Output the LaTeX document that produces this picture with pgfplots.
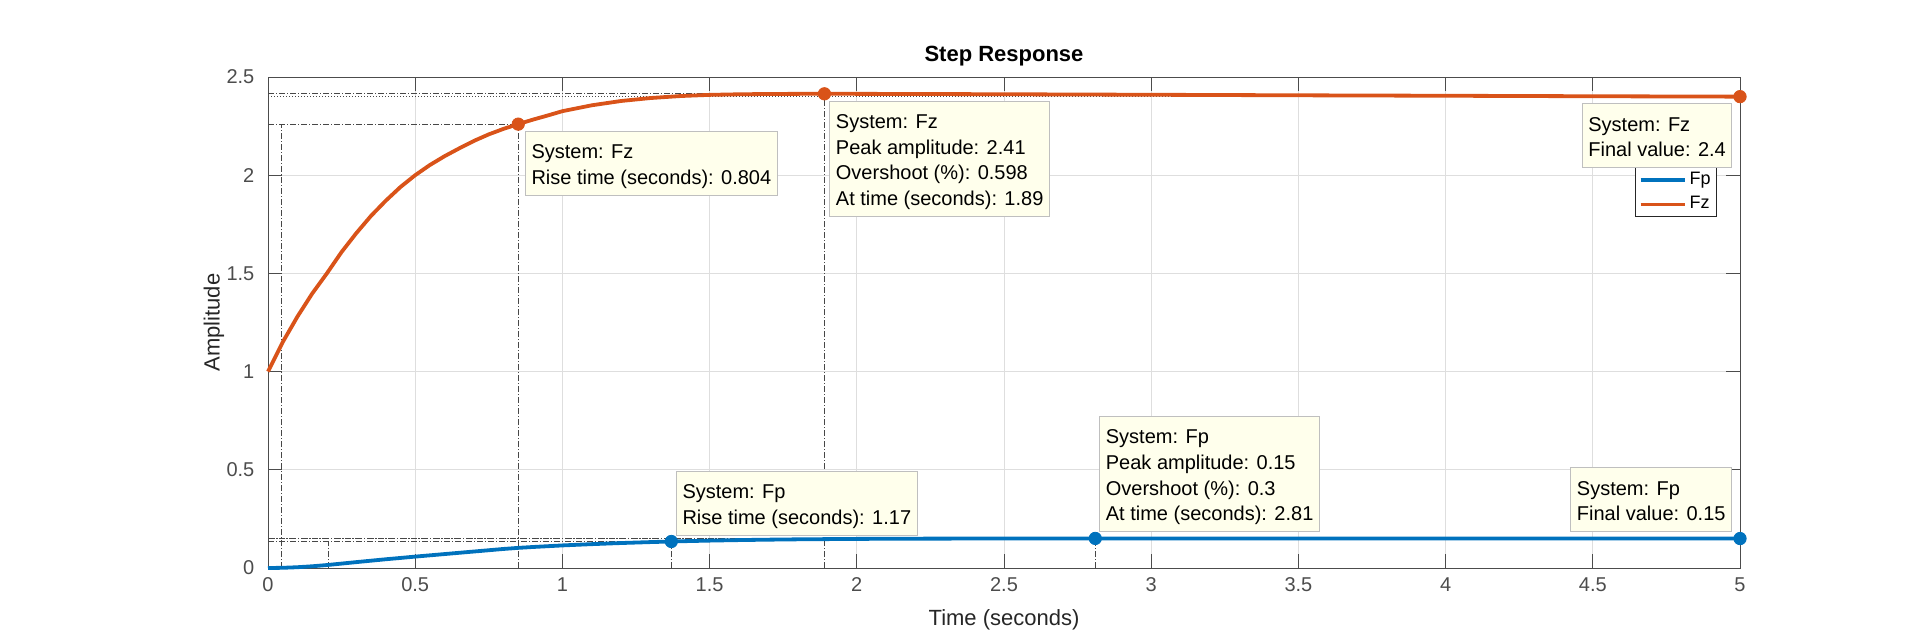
\documentclass[border=0pt]{standalone}
\usepackage{pgfplots}
\pgfplotsset{compat=1.18}
\usepackage{fontspec}
\setmainfont{Liberation Sans}
\definecolor{fpcol}{rgb}{0,0.447,0.741}
\definecolor{fzcol}{rgb}{0.85,0.325,0.098}
\definecolor{tipfill}{RGB}{255,255,236}
\tikzset{
  tipbox/.style={draw=black!25, fill=tipfill, line width=0.5pt, inner xsep=3pt, inner ysep=0pt,
    align=left, font=\fontsize{10}{12.8}\selectfont, text=black},
  charline/.style={draw=black!72, line width=0.5pt, dash pattern=on 3pt off 1pt on 0.5pt off 1pt},
  finline/.style={draw=black!72, line width=0.5pt, dash pattern=on 0.5pt off 1pt},
}
\newcommand{\tiptext}[1]{\rule{0pt}{13.7pt}#1\rule[-5.5pt]{0pt}{5.5pt}}
\begin{document}
\begin{tikzpicture}
\useasboundingbox (-134pt,-35pt) rectangle (826pt,284pt);
\begin{axis}[
  at={(0,0)}, anchor=south west,
  scale only axis, width=736pt, height=245.5pt,
  xmin=0, xmax=5, ymin=0, ymax=2.5,
  xtick={0,0.5,1,1.5,2,2.5,3,3.5,4,4.5,5},
  ytick={0,0.5,1,1.5,2,2.5},
  grid=major, major grid style={draw=black!13, line width=0.5pt},
  axis line style={draw=black!70, line width=0.5pt},
  tick style={draw=black!70, line width=0.5pt},
  major tick length=7.2pt, tick align=inside, tick pos=both,
  ticklabel style={font=\fontsize{10}{12}\selectfont, text=black!70},
  xticklabel style={yshift=-1.2pt},
  yticklabel style={xshift=-3.3pt},
  /pgf/number format/assume math mode=true,
  clip=false,
  title={\textbf{Step Response}},
  every axis title/.style={at={(axis description cs:0.5,1)}, anchor=base, yshift=7.5pt, font=\fontsize{11}{13}\selectfont, text=black},
  xlabel={Time (seconds)},
  ylabel={Amplitude},
  xlabel style={at={(axis description cs:0.5,0)}, anchor=base, yshift=-28.8pt, font=\fontsize{11}{13}\selectfont, text=black!85},
  ylabel style={at={(axis description cs:-0.0367,0.5)}, anchor=center, rotate=0, font=\fontsize{11}{13}\selectfont, text=black!85},
  legend style={at={(axis description cs:0.9844,0.8167)}, anchor=north east, draw=black!85, line width=0.5pt,
    fill=white, font=\fontsize{9}{11}\selectfont, inner xsep=1.5pt, inner ysep=0pt,
    nodes={inner sep=1.5pt, text height=6.8pt, text depth=2.5pt}, row sep=0pt},
  legend cell align=left,
  legend image code/.code={\draw[#1, line width=1.9pt] (0pt,0pt) -- (22pt,0pt);},
]
% characteristic lines
\addplot[charline, forget plot] coordinates {(0.045,0) (0.045,2.26)};
\addplot[charline, forget plot] coordinates {(0,2.26) (0.85,2.26)};
\addplot[charline, forget plot] coordinates {(0.85,0) (0.85,2.26)};
\addplot[charline, forget plot] coordinates {(0,2.4144) (1.89,2.4144)};
\addplot[charline, forget plot] coordinates {(1.89,0) (1.89,2.4144)};
\addplot[finline, forget plot] coordinates {(0,2.4) (5,2.4)};
\addplot[charline, forget plot] coordinates {(0.205,0) (0.205,0.135)};
\addplot[charline, forget plot] coordinates {(0,0.135) (1.37,0.135)};
\addplot[charline, forget plot] coordinates {(1.37,0) (1.37,0.135)};
\addplot[charline, forget plot] coordinates {(0,0.1505) (2.81,0.1505)};
\addplot[charline, forget plot] coordinates {(2.81,0) (2.81,0.1505)};
\addplot[finline, forget plot] coordinates {(0,0.15) (5,0.15)};
% Fp
\addplot[color=fpcol, line width=1.9pt, line join=round] coordinates {
(0,0.0000) (0.05,0.0010) (0.1,0.0040) (0.15,0.0088) (0.2,0.0150) (0.25,0.0225)
(0.3,0.0300) (0.4,0.0445) (0.5,0.0580) (0.6,0.0710) (0.7,0.0840) (0.8,0.0970)
(0.85,0.1025) (0.9,0.1070) (1.0,0.1150) (1.1,0.1215) (1.2,0.1272) (1.3,0.1320)
(1.37,0.1350) (1.4,0.1362) (1.5,0.1395) (1.6,0.1422) (1.7,0.1443) (1.8,0.1460)
(2.0,0.1482) (2.2,0.1494) (2.5,0.1502) (2.81,0.1505) (3.0,0.1504) (3.5,0.1503)
(4.0,0.1502) (4.5,0.1501) (5.0,0.1500)};
\addlegendentry{Fp}
% Fz
\addplot[color=fzcol, line width=1.9pt, line join=round] coordinates {
(0,1.000) (0.05,1.150) (0.1,1.280) (0.15,1.397) (0.2,1.500) (0.25,1.609)
(0.3,1.705) (0.35,1.793) (0.4,1.870) (0.45,1.940) (0.5,2.000) (0.55,2.052)
(0.6,2.097) (0.65,2.137) (0.7,2.175) (0.75,2.208) (0.8,2.236) (0.85,2.260)
(0.9,2.283) (0.95,2.304) (1.0,2.326) (1.1,2.356) (1.2,2.378) (1.3,2.393)
(1.4,2.403) (1.5,2.409) (1.6,2.412) (1.7,2.4135) (1.8,2.4142) (1.89,2.4144)
(2.0,2.4142) (2.2,2.4135) (2.5,2.4122) (3.0,2.4095) (3.5,2.4068) (4.0,2.4045)
(4.5,2.4020) (5.0,2.4000)};
\addlegendentry{Fz}
% markers
\addplot[only marks, mark=*, mark size=3.1pt, color=fpcol, forget plot] coordinates {(1.37,0.135) (2.81,0.1505) (5,0.15)};
\addplot[only marks, mark=*, mark size=3.1pt, color=fzcol, forget plot] coordinates {(0.85,2.26) (1.89,2.4144) (5,2.4)};
% anchor points for datatips
\coordinate (t1) at (axis cs:0.873,2.227);
\coordinate (t2) at (axis cs:1.907,2.379);
\coordinate (t3) at (axis cs:4.974,2.366);
\coordinate (t4) at (axis cs:1.386,0.165);
\coordinate (t5) at (axis cs:2.824,0.182);
\coordinate (t6) at (axis cs:4.973,0.182);
\end{axis}
\node[tipbox, anchor=north west] at (t1) {\tiptext{System: Fz\\Rise time (seconds): 0.804}};
\node[tipbox, anchor=north west] at (t2) {\tiptext{System: Fz\\Peak amplitude: 2.41\\Overshoot (\%): 0.598\\At time (seconds): 1.89}};
\node[tipbox, anchor=north east] at (t3) {\tiptext{System: Fz\\Final value: 2.4}};
\node[tipbox, anchor=south west] at (t4) {\tiptext{System: Fp\\Rise time (seconds): 1.17}};
\node[tipbox, anchor=south west] at (t5) {\tiptext{System: Fp\\Peak amplitude: 0.15\\Overshoot (\%): 0.3\\At time (seconds): 2.81}};
\node[tipbox, anchor=south east] at (t6) {\tiptext{System: Fp\\Final value: 0.15}};
\end{tikzpicture}
\end{document}
